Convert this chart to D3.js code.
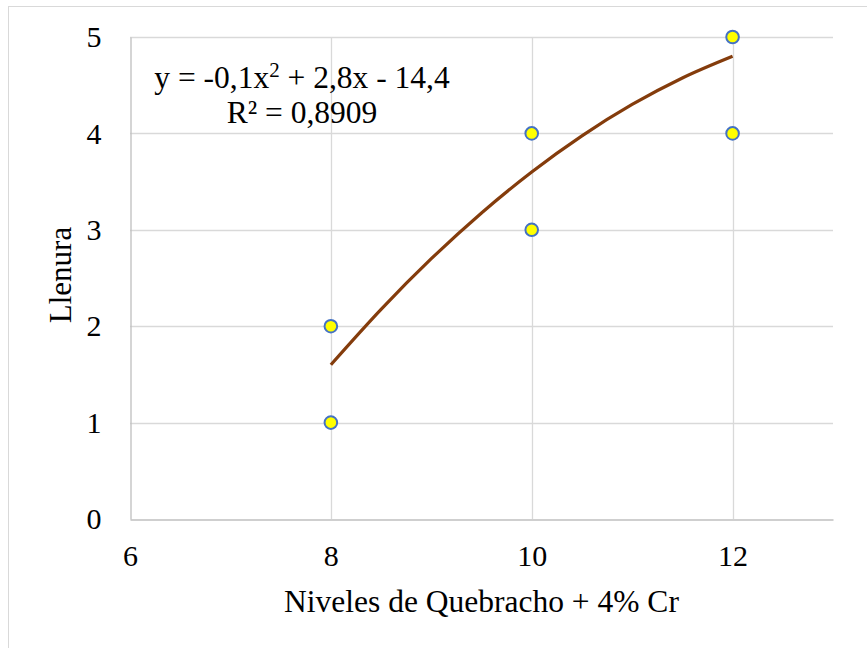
<!DOCTYPE html>
<html lang="es">
<head>
    <meta charset="UTF-8">
    <title>Llenura vs Niveles de Quebracho</title>
    <script src="https://d3js.org/d3.v7.min.js"></script>
    <style>
        body { margin: 0; background: #fff; }
        svg text { font-family: "Liberation Serif", "Times New Roman", serif; fill: #000; }
    </style>
</head>
<body>
<div id="chart"></div>
<script>
    // Observed points (nivel, llenura)
    const xValues = [8, 8, 10, 10, 12, 12];
    const yValues = [2, 1, 4, 3, 5, 4];

    // Polynomial trend line
    const trendX = [8, 8.5, 9, 9.5, 10, 10.5, 11, 11.5, 12];
    const trendY = [1.6, 2.175, 2.7, 3.175, 3.6, 3.975, 4.3, 4.575, 4.8];

    const xTicks = [6, 8, 10, 12];
    const yTicks = [0, 1, 2, 3, 4, 5];

    const width = 867, height = 648;
    const margin = { left: 130, right: 34, top: 37, bottom: 129 };

    const svg = d3.select("#chart").append("svg")
        .attr("width", width)
        .attr("height", height);

    // chart border (only top/left edges fall inside the picture)
    svg.append("rect")
        .attr("x", 8.5).attr("y", 6.5)
        .attr("width", 900).attr("height", 700)
        .attr("fill", "none")
        .attr("stroke", "#d9d9d9");

    const x = d3.scaleLinear().domain([6, 13]).range([margin.left, width - margin.right]);
    const y = d3.scaleLinear().domain([0, 5]).range([height - margin.bottom, margin.top]);

    // horizontal gridlines
    svg.append("g")
        .selectAll("line")
        .data(yTicks.filter(d => d > 0))
        .enter().append("line")
        .attr("x1", x(6)).attr("x2", x(13))
        .attr("y1", d => Math.round(y(d)) + 0.5)
        .attr("y2", d => Math.round(y(d)) + 0.5)
        .attr("stroke", "#d9d9d9")
        .attr("stroke-width", 1.3);

    // vertical gridlines
    svg.append("g")
        .selectAll("line")
        .data(xTicks.filter(d => d > 6))
        .enter().append("line")
        .attr("x1", d => Math.round(x(d)) + 0.5)
        .attr("x2", d => Math.round(x(d)) + 0.5)
        .attr("y1", y(0)).attr("y2", y(5))
        .attr("stroke", "#d9d9d9")
        .attr("stroke-width", 1.3);

    // axes
    const xAxis = svg.append("g")
        .attr("transform", `translate(0,${Math.round(y(0)) + 0.5})`)
        .call(d3.axisBottom(x).tickValues(xTicks).tickFormat(d3.format("d")).tickSize(0).tickPadding(25));
    xAxis.select(".domain").attr("stroke", "#bfbfbf").attr("stroke-width", 1.3);

    const yAxis = svg.append("g")
        .attr("transform", `translate(${Math.round(x(6)) + 0.5},0)`)
        .call(d3.axisLeft(y).tickValues(yTicks).tickFormat(d3.format("d")).tickSize(0).tickPadding(29));
    yAxis.select(".domain").attr("stroke", "#bfbfbf").attr("stroke-width", 1.3);

    svg.selectAll(".tick text")
        .attr("font-family", "Liberation Serif, serif")
        .attr("font-size", 30)
        .attr("fill", "#000");

    // trend line
    const line = d3.line()
        .x((d, i) => x(trendX[i]))
        .y((d, i) => y(trendY[i]))
        .curve(d3.curveMonotoneX);

    svg.append("path")
        .datum(trendY)
        .attr("d", line)
        .attr("fill", "none")
        .attr("stroke", "#843C0C")
        .attr("stroke-width", 3.2);

    // points
    svg.append("g")
        .selectAll("circle")
        .data(xValues)
        .enter().append("circle")
        .attr("cx", (d, i) => x(xValues[i]))
        .attr("cy", (d, i) => y(yValues[i]))
        .attr("r", 6.3)
        .attr("fill", "#FFFF00")
        .attr("stroke", "#4472C4")
        .attr("stroke-width", 2);

    // equation label
    const eq = svg.append("text")
        .attr("x", 302)
        .attr("y", 88)
        .attr("text-anchor", "middle")
        .attr("font-size", 31.5);
    eq.append("tspan").text("y = -0,1x");
    eq.append("tspan").attr("font-size", 21).attr("dy", -11).text("2");
    eq.append("tspan").attr("dy", 11).text(" + 2,8x - 14,4");

    svg.append("text")
        .attr("x", 302)
        .attr("y", 123)
        .attr("text-anchor", "middle")
        .attr("font-size", 31.5)
        .text("R\u00B2 = 0,8909");

    // axis titles
    svg.append("text")
        .attr("x", (x(6) + x(13)) / 2)
        .attr("y", 612)
        .attr("text-anchor", "middle")
        .attr("font-size", 31.5)
        .text("Niveles de Quebracho + 4% Cr");

    svg.append("text")
        .attr("transform", `translate(71,${(y(0) + y(5)) / 2 - 3}) rotate(-90)`)
        .attr("text-anchor", "middle")
        .attr("font-size", 31)
        .text("Llenura");
</script>
</body>
</html>
